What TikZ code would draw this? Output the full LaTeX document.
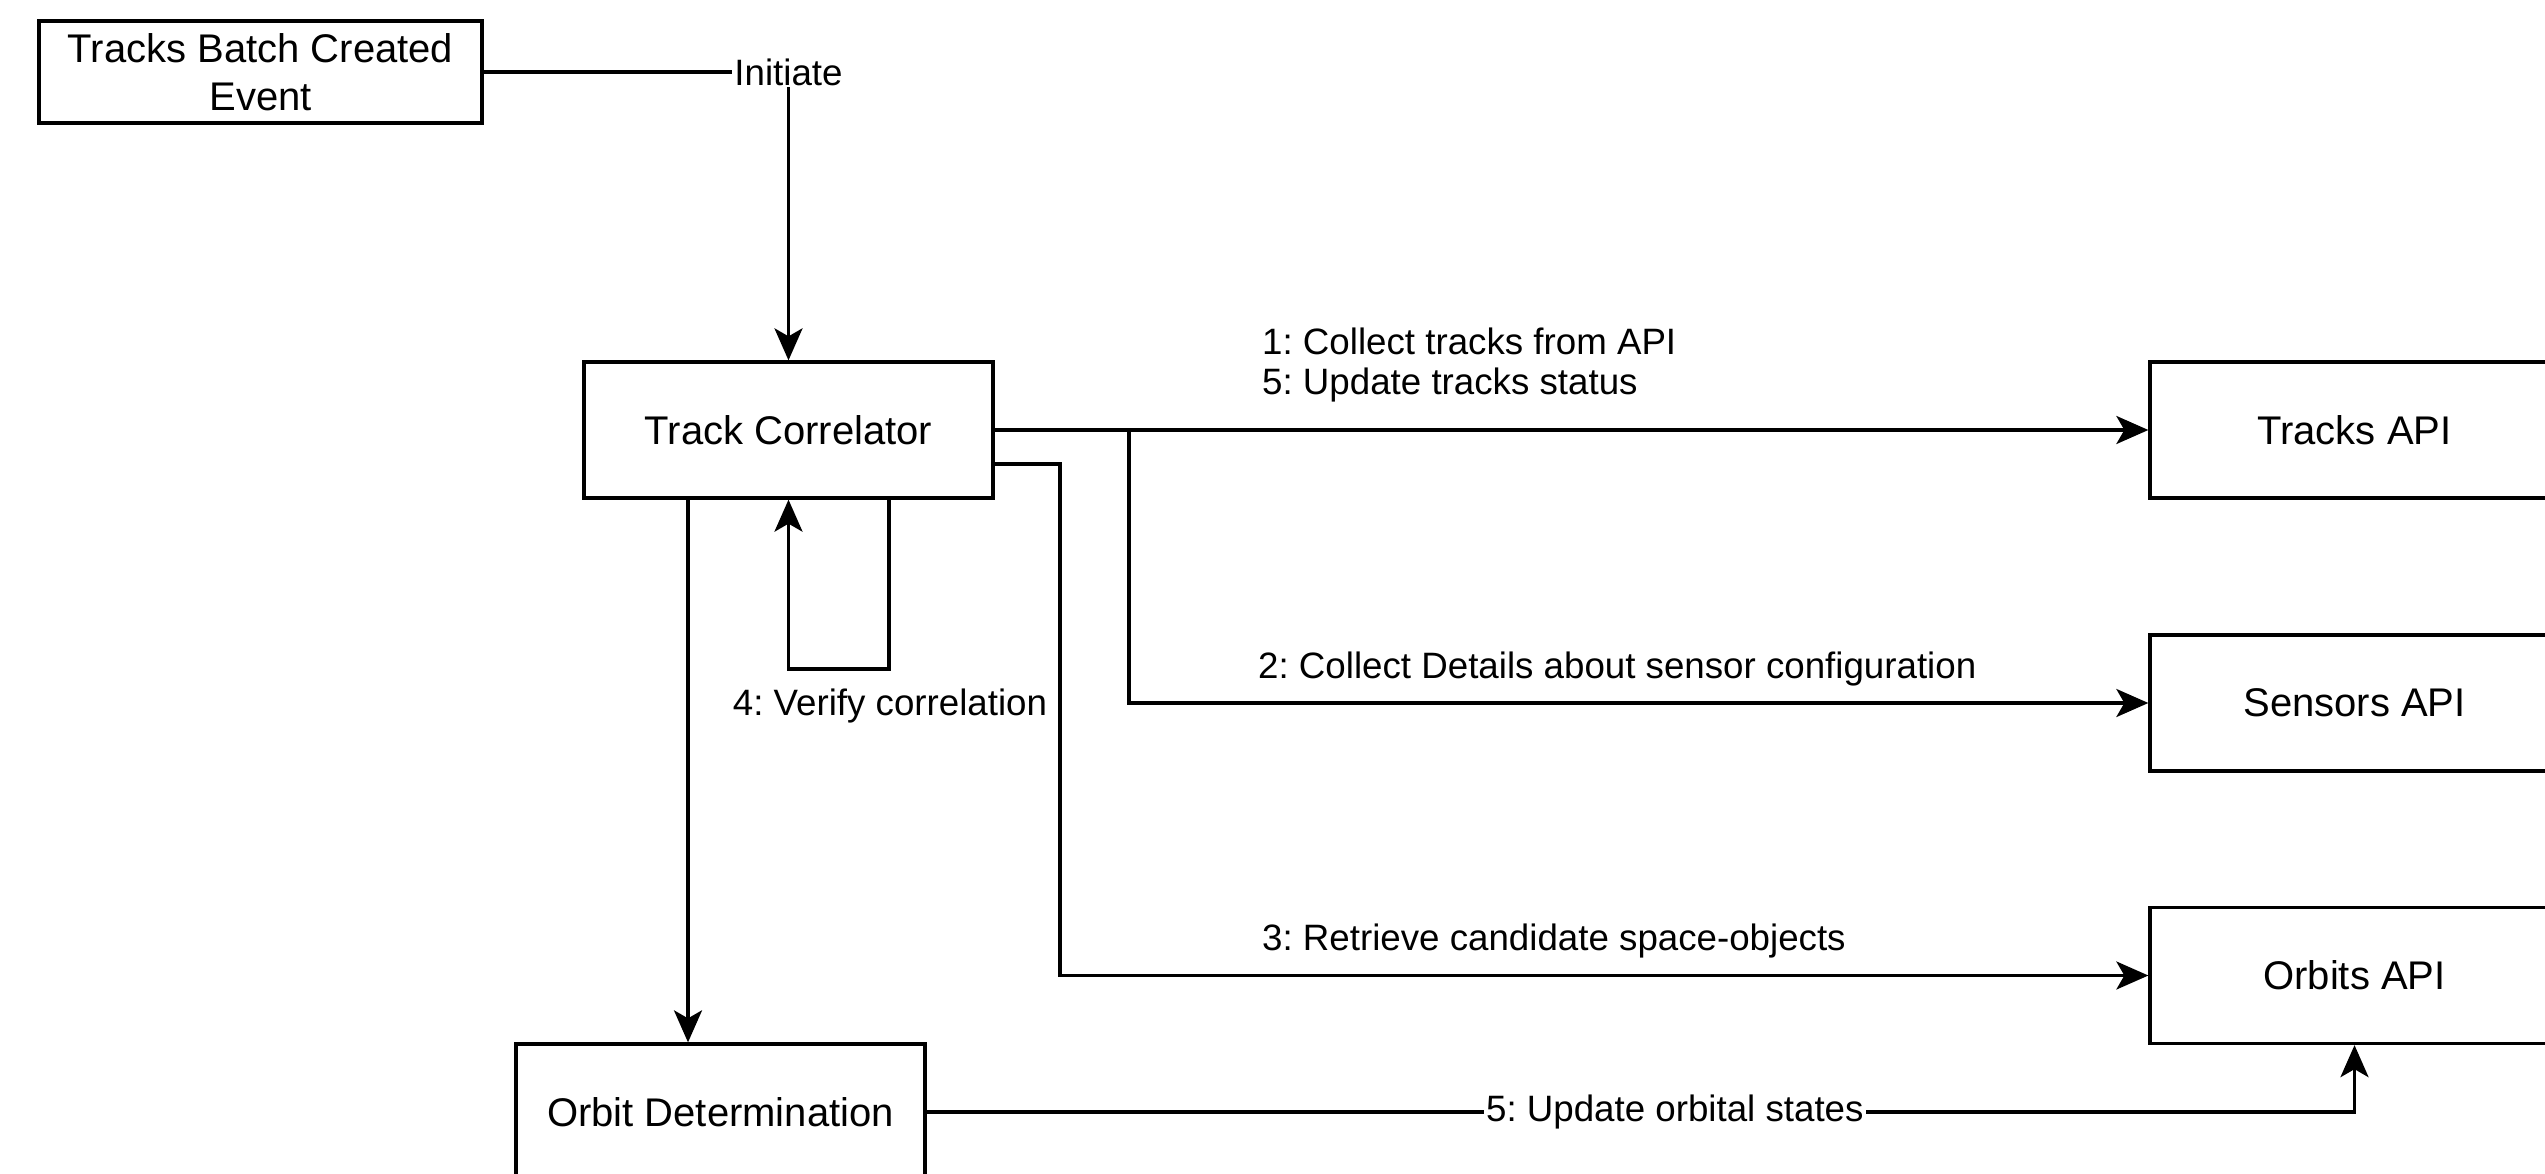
\documentclass[tikz,border=0pt]{standalone}
\usepackage{fontspec}
\setmainfont{Liberation Sans}
\usetikzlibrary{arrows.meta}
\frenchspacing
\begin{document}
\begin{tikzpicture}[x=1pt,y=-1pt,
  box/.style={draw=black, line width=3.3pt, rectangle, minimum width=409pt, minimum height=136pt, inner sep=0pt, align=center, font=\fontsize{40}{48}\selectfont},
  lbl/.style={inner sep=2pt, align=left, font=\fontsize{36.7}{44}\selectfont},
  conn/.style={draw=black, line width=3.3pt, -{Stealth[length=32pt,width=28pt,inset=8pt]}},
  plain/.style={draw=black, line width=3.3pt}]
\useasboundingbox (0,0) rectangle (2545,1174);
\fill[white] (0,0) rectangle (2545,1174);
% nodes
\node[box, minimum width=443pt, minimum height=102pt] (tbc) at (260.5,72) {\frenchspacing Tracks Batch Created\\Event};
\node[box] (tc) at (788.5,430) {Track Correlator};
\node[box] (tapi) at (2354.5,430) {Tracks API};
\node[box] (sapi) at (2354.5,703) {Sensors API};
\node[box] (oapi) at (2354.5,975.5) {Orbits API};
\node[box] (od) at (720.5,1112) {Orbit Determination};
% connectors
\draw[conn] (tbc.east) -| node[lbl, fill=white, pos=0.5] {Initiate} (tc.north);
\draw[conn] (tc.east) -- (tapi.west);
\coordinate (b1) at (1129,430);
\draw[conn] (b1) |- (sapi.west);
\coordinate (o1) at ([yshift=-34pt]tc.east);
\coordinate (b2) at (1060,975.5);
\draw[conn] (o1) -| (b2) |- (oapi.west);
\coordinate (lp) at (889,669);
\draw[conn] (tc.south -| lp) -- (lp) -| (tc.south);
\coordinate (c1) at ([xshift=-100.5pt]tc.south);
\draw[conn] (c1) -- (c1 |- od.north);
\draw[conn] (od.east) -| node[lbl, fill=white, pos=0.262] {\frenchspacing 5: Update orbital states} (oapi.south);
% labels
\node[lbl, anchor=west] (l1) at (1260,341) {\frenchspacing 1: Collect tracks from API};
\node[lbl, anchor=west] (l5) at (1260,385) {\frenchspacing 5: Update tracks status};
\node[lbl, anchor=west] (l2) at (1256,669) {\frenchspacing 2: Collect Details about sensor configuration};
\node[lbl, anchor=west] (l3) at (1260,941) {\frenchspacing 3: Retrieve candidate space-objects};
\node[lbl] (l4) at (890,706) {\frenchspacing 4: Verify correlation};
\end{tikzpicture}
\end{document}
